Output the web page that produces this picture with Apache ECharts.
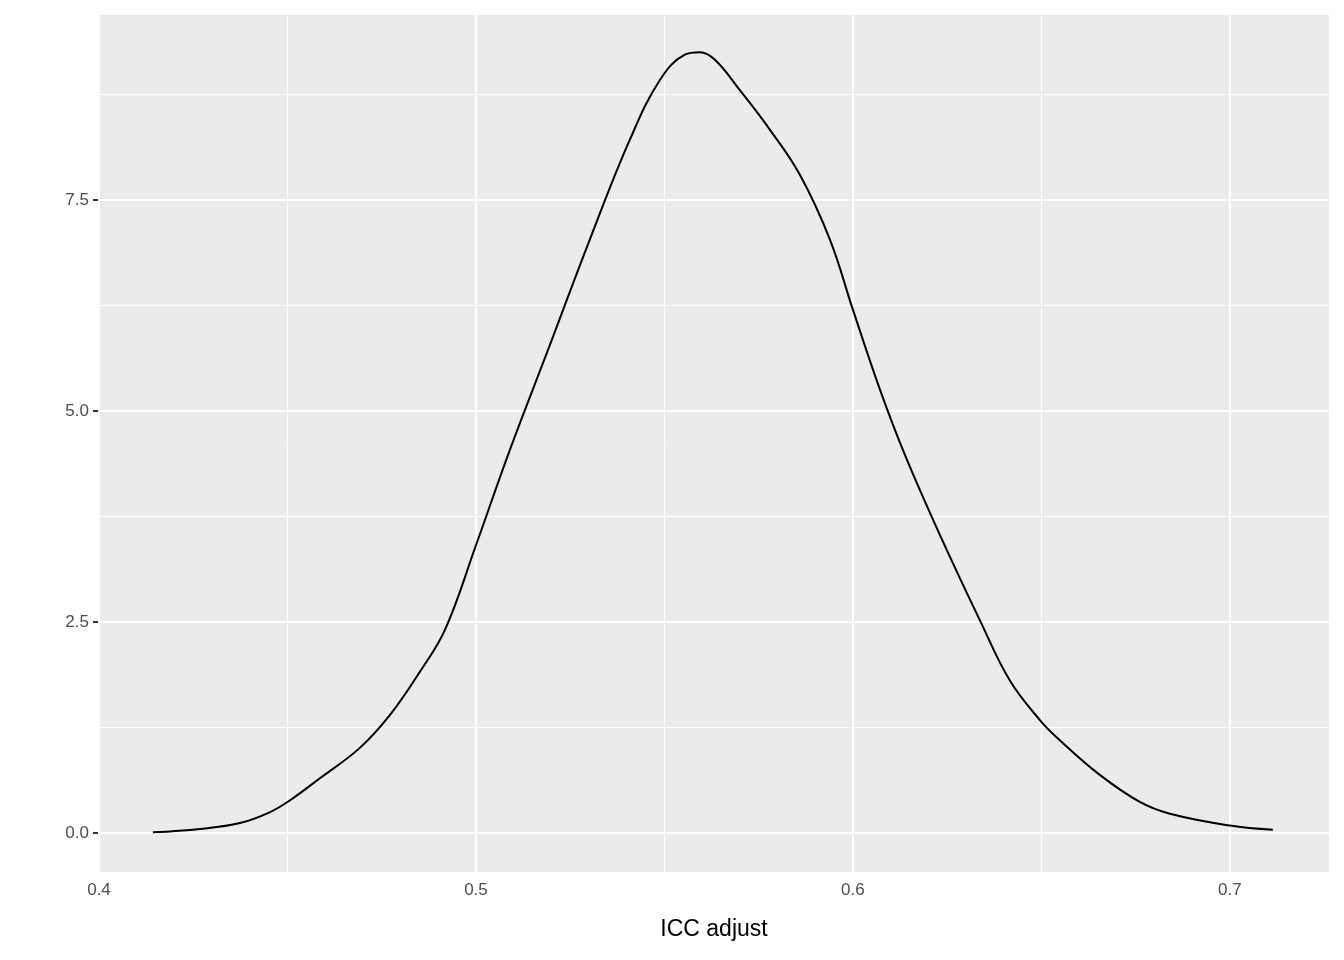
<!DOCTYPE html>
<html>
<head>
<meta charset="utf-8">
<script src="https://cdn.jsdelivr.net/npm/echarts@6/dist/echarts.min.js"></script>
<style>
  * { margin: 0; padding: 0; }
  html, body { width: 100%; height: 100%; background: #fff; }
  #main { width: 1344px; height: 960px; }
</style>
</head>
<body>
<div id="main"></div>
<script>
// density curve
var iccX = [0.4143, 0.4268, 0.4374, 0.4454, 0.4507, 0.4586, 0.4692, 0.4772, 0.4851, 0.4918,
            0.5000, 0.5090, 0.5196, 0.5302, 0.5408, 0.5488, 0.5554, 0.5594, 0.5634, 0.5700,
            0.5780, 0.5859, 0.5939, 0.6000, 0.6072, 0.6138, 0.6231, 0.6337, 0.6416, 0.6496,
            0.6549, 0.6655, 0.6761, 0.6841, 0.7000, 0.7114];
var density = [0.01, 0.05, 0.12, 0.25, 0.39, 0.65, 1.01, 1.40, 1.91, 2.41,
               3.41, 4.54, 5.78, 7.03, 8.21, 8.92, 9.22, 9.25, 9.16, 8.80,
               8.33, 7.80, 7.03, 6.20, 5.25, 4.48, 3.53, 2.52, 1.81, 1.34,
               1.10, 0.69, 0.37, 0.23, 0.09, 0.04];
var xTicks = [0.4, 0.5, 0.6, 0.7];
var yTicks = [0, 2.5, 5, 7.5];
var xMinor = [0.45, 0.55, 0.65];
var yMinor = [1.25, 3.75, 6.25, 8.75];

var grid = [];
xTicks.forEach(function (v) { grid.push({ xAxis: v, lineStyle: { width: 2 } }); });
xMinor.forEach(function (v) { grid.push({ xAxis: v, lineStyle: { width: 1 } }); });
yTicks.forEach(function (v) { grid.push({ yAxis: v, lineStyle: { width: 2 } }); });
yMinor.forEach(function (v) { grid.push({ yAxis: v, lineStyle: { width: 1 } }); });

var chart = echarts.init(document.getElementById('main'));
chart.setOption({
    animation: false,
    grid: { left: 99, right: 15, top: 15, bottom: 88, show: true,
            backgroundColor: '#EBEBEB', borderWidth: 0 },
    xAxis: {
        type: 'value', min: 0.4, max: 0.7263,
        name: 'ICC adjust', nameLocation: 'middle', nameGap: 46,
        nameTextStyle: { color: '#000', fontSize: 23, fontFamily: 'Liberation Sans' },
        axisLine: { show: false },
        axisTick: { show: true, length: 6, customValues: xTicks, lineStyle: { color: '#333', width: 2 } },
        axisLabel: { customValues: xTicks, color: '#4D4D4D', fontSize: 17, margin: 10,
                     fontFamily: 'Liberation Sans', formatter: function (v) { return v.toFixed(1); } },
        splitLine: { show: false }
    },
    yAxis: {
        type: 'value', min: -0.46, max: 9.69,
        axisLine: { show: false },
        axisTick: { show: true, length: 6, customValues: yTicks, lineStyle: { color: '#333', width: 2 } },
        axisLabel: { customValues: yTicks, color: '#4D4D4D', fontSize: 17, margin: 10,
                     fontFamily: 'Liberation Sans', formatter: function (v) { return v.toFixed(1); } },
        splitLine: { show: false }
    },
    series: [{
        type: 'line',
        data: [],
        z: 1,
        markLine: {
            silent: true, symbol: 'none', label: { show: false },
            lineStyle: { color: '#fff', type: 'solid' },
            data: grid
        }
    }, {
        type: 'line',
        z: 5,
        data: iccX.map(function (x, i) { return [x, density[i]]; }),
        smooth: 0.4,
        symbol: 'none',
        lineStyle: { color: '#000', width: 2 }
    }]
});
</script>
</body>
</html>
